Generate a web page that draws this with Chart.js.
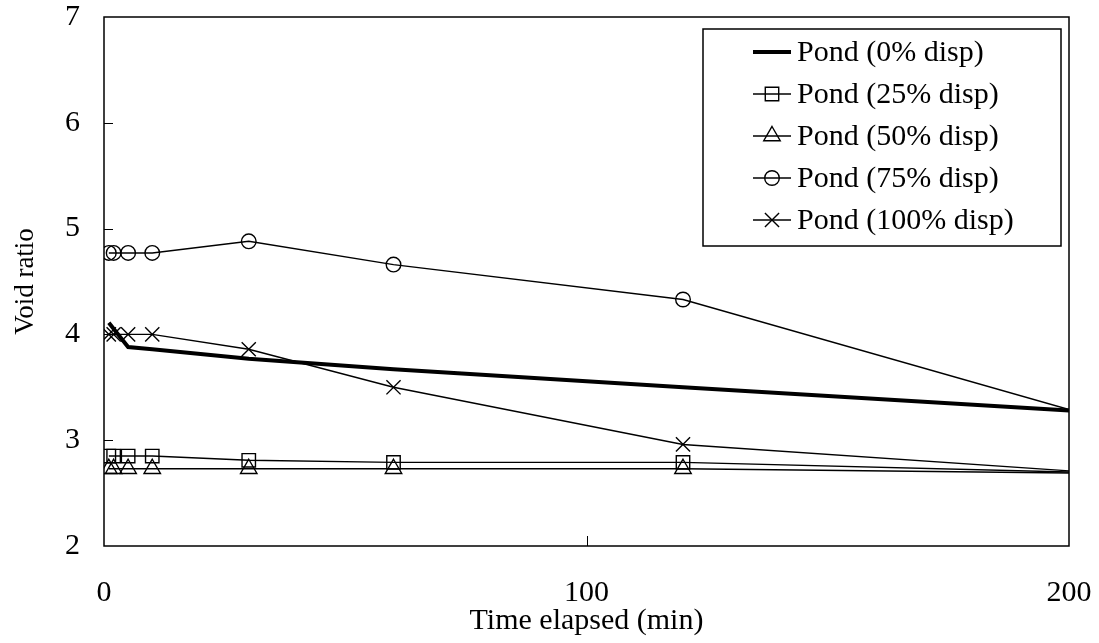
<!DOCTYPE html>
<html lang="en">
<head>
    <meta charset="UTF-8">
    <title>Void ratio vs time</title>
    <style>
        body { margin: 0; background: #fff; }
        .wrap { width: 1099px; height: 643px; }
    </style>
    <script src="https://cdn.jsdelivr.net/npm/chart.js"></script>
</head>
<body>
    <div class="wrap"><canvas id="chart-void" width="1099" height="643"></canvas></div>
    <script>
        // sampling times (min)
        const times = [1, 2, 5, 10, 30, 60, 120, 200];
        const timesPond0 = [1, 5, 10, 30, 60, 120, 200];

        const labels = ['Pond (0% disp)', 'Pond (25% disp)', 'Pond (50% disp)', 'Pond (75% disp)', 'Pond (100% disp)'];
        const pond0 = [4.11, 3.88, 3.86, 3.77, 3.67, 3.50, 3.28];
        const pond25 = [2.85, 2.85, 2.85, 2.85, 2.81, 2.79, 2.79, 2.70];
        const pond50 = [2.73, 2.73, 2.73, 2.73, 2.73, 2.73, 2.73, 2.69];
        const pond75 = [4.77, 4.77, 4.77, 4.77, 4.88, 4.66, 4.33, 3.29];
        const pond100 = [4.00, 4.00, 4.00, 4.00, 3.86, 3.50, 2.96, 2.71];

        const yTicks = [2, 3, 4, 5, 6, 7];
        const xTicks = [0, 100, 200];

        const FONT = "'Times New Roman', 'Liberation Serif', serif";

        function pts(xs, ys) { return xs.map((x, i) => ({ x: x, y: ys[i] })); }
        // last point sits on the right border, no marker there
        function radii(n, r) { return Array.from({ length: n }, (_, i) => i === n - 1 ? 0 : r); }

        const thin = { borderColor: '#000', backgroundColor: 'transparent', borderWidth: 1.4, pointBorderWidth: 1.4, pointBorderColor: '#000', pointBackgroundColor: 'transparent', tension: 0 };

        const datasets = [
            { label: labels[0], data: pts(timesPond0, pond0), borderColor: '#000', borderWidth: 4, pointRadius: 0, tension: 0, pointStyle: false },
            Object.assign({ label: labels[1], data: pts(times, pond25), pointStyle: 'rect', pointRadius: radii(8, 9.5) }, thin),
            Object.assign({ label: labels[2], data: pts(times, pond50), pointStyle: 'triangle', pointRadius: radii(8, 9.5) }, thin),
            Object.assign({ label: labels[3], data: pts(times, pond75), pointStyle: 'circle', pointRadius: radii(8, 7.3) }, thin),
            Object.assign({ label: labels[4], data: pts(times, pond100), pointStyle: 'crossRot', pointRadius: radii(8, 10) }, thin)
        ];

        // plot frame and inward tick marks
        const framePlugin = {
            id: 'frame',
            beforeDatasetsDraw(chart) {
                const { ctx, chartArea: a, scales } = chart;
                ctx.save();
                ctx.strokeStyle = '#000';
                ctx.lineWidth = 1.5;
                ctx.strokeRect(a.left, a.top, a.right - a.left, a.bottom - a.top);
                ctx.lineWidth = 1;
                ctx.beginPath();
                yTicks.slice(1, -1).forEach(v => {
                    const y = Math.round(scales.y.getPixelForValue(v)) + 0.5;
                    ctx.moveTo(a.left, y); ctx.lineTo(a.left + 9, y);
                });
                xTicks.slice(1, -1).forEach(v => {
                    const x = Math.round(scales.x.getPixelForValue(v)) + 0.5;
                    ctx.moveTo(x, a.bottom); ctx.lineTo(x, a.bottom - 10);
                });
                ctx.stroke();
                ctx.restore();
            }
        };

        // boxed legend inside the plot, top right
        const legendPlugin = {
            id: 'boxLegend',
            afterDraw(chart) {
                const ctx = chart.ctx;
                const box = { x: 703, y: 29, w: 358, h: 217 };
                ctx.save();
                ctx.fillStyle = '#fff';
                ctx.fillRect(box.x, box.y, box.w, box.h);
                ctx.strokeStyle = '#000';
                ctx.lineWidth = 1.5;
                ctx.strokeRect(box.x, box.y, box.w, box.h);
                ctx.font = '30px ' + FONT;
                ctx.textBaseline = 'middle';
                chart.data.datasets.forEach((ds, i) => {
                    const y = 52 + i * 42;
                    ctx.strokeStyle = '#000';
                    ctx.lineWidth = ds.borderWidth;
                    ctx.beginPath();
                    ctx.moveTo(753, y); ctx.lineTo(791, y);
                    ctx.stroke();
                    if (ds.pointStyle) {
                        ctx.fillStyle = 'rgba(0,0,0,0)';
                        ctx.lineWidth = ds.pointBorderWidth;
                        Chart.helpers.drawPoint(ctx, { pointStyle: ds.pointStyle, radius: ds.pointRadius[0], rotation: 0, borderWidth: ds.pointBorderWidth }, 772, y);
                    }
                    ctx.fillStyle = '#000';
                    ctx.fillText(ds.label, 797, y + 1);
                });
                ctx.restore();
            }
        };

        new Chart(document.getElementById('chart-void').getContext('2d'), {
            type: 'line',
            data: { datasets: datasets },
            options: {
                responsive: false,
                animation: false,
                layout: { padding: { top: 17, right: 30, left: 0, bottom: 0 } },
                plugins: { legend: { display: false }, tooltip: { enabled: false } },
                scales: {
                    x: {
                        type: 'linear', min: 0, max: 200,
                        afterBuildTicks: s => { s.ticks = xTicks.map(v => ({ value: v })); },
                        afterFit: s => { s.height = 97; s.paddingLeft = 0; s.paddingRight = 0; },
                        grid: { display: false, drawTicks: false },
                        border: { display: false },
                        ticks: { color: '#000', font: { family: FONT, size: 30 }, padding: 29, maxRotation: 0 },
                        title: { display: true, text: 'Time elapsed (min)', color: '#000', font: { family: FONT, size: 30 }, padding: { top: 0, bottom: 4 } }
                    },
                    y: {
                        min: 2, max: 7,
                        afterBuildTicks: s => { s.ticks = yTicks.map(v => ({ value: v })); },
                        afterFit: s => { s.width = 104; s.paddingTop = 0; s.paddingBottom = 0; },
                        grid: { display: false, drawTicks: false },
                        border: { display: false },
                        ticks: { color: '#000', font: { family: FONT, size: 30 }, padding: 24 },
                        title: { display: true, text: 'Void ratio', color: '#000', font: { family: FONT, size: 27 }, padding: { top: 10, bottom: 0 } }
                    }
                }
            },
            plugins: [framePlugin, legendPlugin]
        });
    </script>
</body>
</html>
